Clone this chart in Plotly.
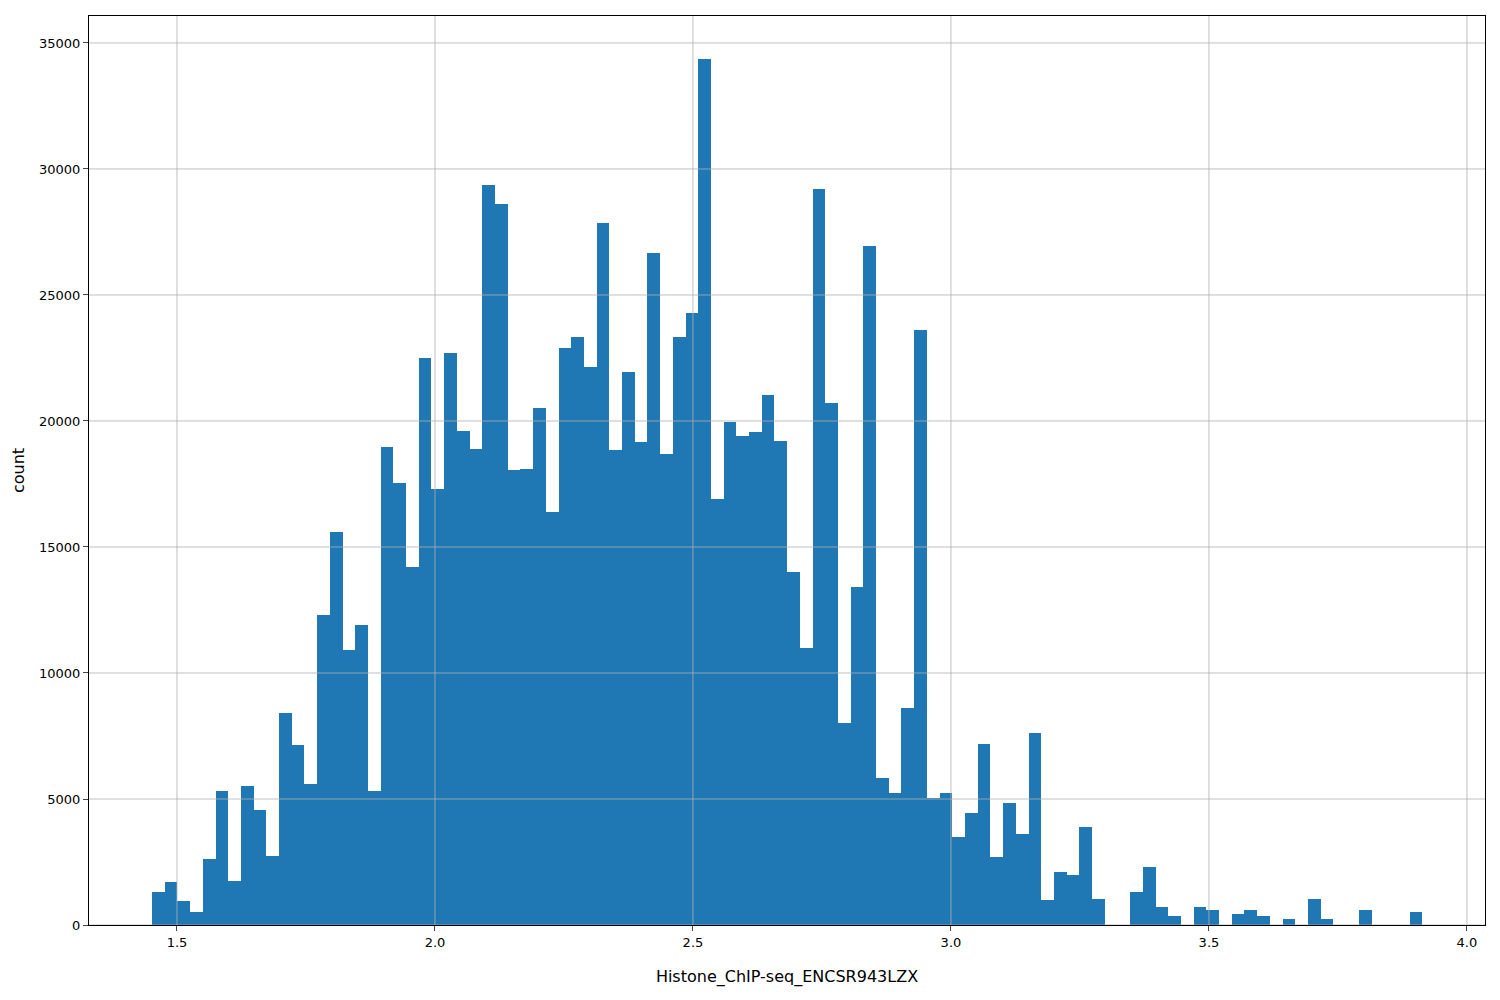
import numpy as np
import plotly.graph_objects as go

bin_start = 1.4516
bin_end = 3.9135
counts = [1300,1700,950,500,2600,5300,1750,5500,4550,2750,
          8400,7150,5600,12300,15600,10900,11900,5300,18950,17550,
          14200,22500,17300,22700,19600,18900,29350,28600,18050,18100,
          20500,16400,22900,23350,22150,27850,18850,21950,19150,26650,
          18700,23350,24300,34350,16900,19950,19400,19550,21050,19200,
          14000,11000,29200,20700,8000,13400,26950,5850,5250,8600,
          23600,5050,5250,3500,4450,7200,2700,4850,3600,7600,
          1000,2100,2000,3900,1050,0,0,1300,2300,700,
          350,0,700,600,0,450,600,350,0,250,
          0,1050,250,0,0,600,0,0,0,500]
x_ticks = [1.5, 2.0, 2.5, 3.0, 3.5, 4.0]
x_labels = ["1.5", "2.0", "2.5", "3.0", "3.5", "4.0"]
y_ticks = [0, 5000, 10000, 15000, 20000, 25000, 30000, 35000]
y_labels = ["0", "5000", "10000", "15000", "20000", "25000", "30000", "35000"]

n = len(counts)
w = (bin_end - bin_start) / n
centers = bin_start + w * (np.arange(n) + 0.5)

fig = go.Figure(go.Bar(x=centers, y=counts, width=w, marker=dict(color="#1f77b4", line=dict(width=0))))

shapes = []
for t in x_ticks:
    shapes.append(dict(type="line", xref="x", yref="paper", x0=t, x1=t, y0=0, y1=1,
                       line=dict(color="rgba(176,176,176,0.8)", width=1), layer="above"))
for t in y_ticks:
    shapes.append(dict(type="line", xref="paper", yref="y", x0=0, x1=1, y0=t, y1=t,
                       line=dict(color="rgba(176,176,176,0.8)", width=1), layer="above"))

fig.update_layout(
    width=1500, height=1000, plot_bgcolor="white", paper_bgcolor="white",
    margin=dict(l=81, r=23, t=8, b=83), showlegend=False, bargap=0,
    font=dict(family="DejaVu Sans", size=13, color="black"),
    shapes=shapes,
)
fig.update_xaxes(range=[1.3295, 4.035], tickvals=x_ticks, ticktext=x_labels, automargin=False,
                 showgrid=False, showline=True, mirror=True, linecolor="black", ticks="outside",
                 tickfont=dict(size=13), title=dict(text="Histone_ChIP-seq_ENCSR943LZX", standoff=22),
                 zeroline=False)
fig.update_yaxes(range=[0, 36070], tickvals=y_ticks, ticktext=y_labels, automargin=False,
                 showgrid=False, showline=True, mirror=True, tickfont=dict(size=13),
                 linecolor="black", ticks="outside", title=dict(text="count", standoff=10), zeroline=False)

fig.write_html("out.html")
